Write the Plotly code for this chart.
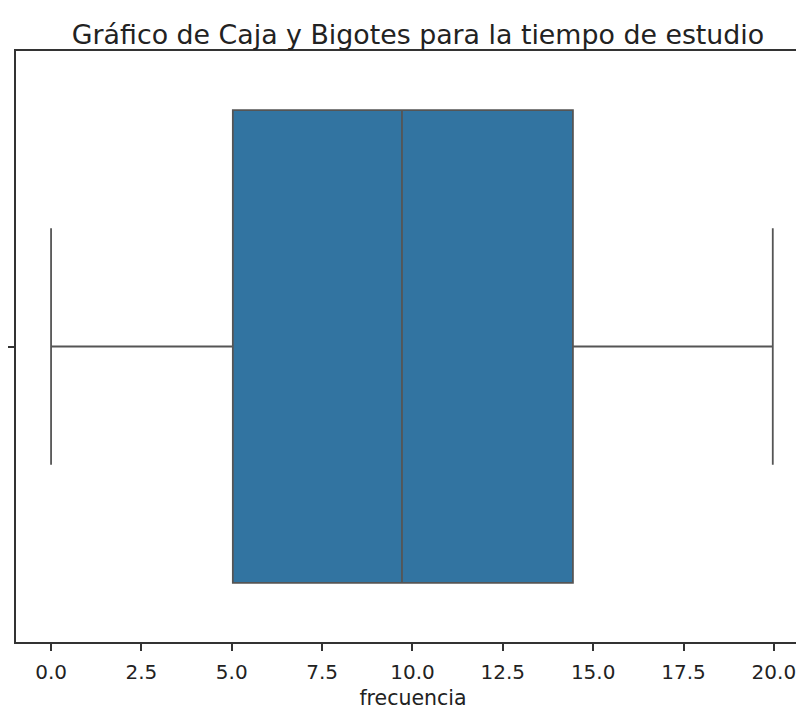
import plotly.graph_objects as go

# Box statistics
q1_vals = [5.03]
median_vals = [9.71]
q3_vals = [14.44]
lower_vals = [0.0]
upper_vals = [19.97]
y_pos = [0]

title_text = "Gráfico de Caja y Bigotes para la tiempo de estudio"
x_label = "frecuencia"
x_tickvals = [0.0, 2.5, 5.0, 7.5, 10.0, 12.5, 15.0, 17.5, 20.0]
x_ticktext = ["0.0", "2.5", "5.0", "7.5", "10.0", "12.5", "15.0", "17.5", "20.0"]

fig = go.Figure()
fig.add_trace(go.Box(
    q1=q1_vals, median=median_vals, q3=q3_vals,
    lowerfence=lower_vals, upperfence=upper_vals,
    y=y_pos, orientation="h",
    width=0.8, whiskerwidth=0.5,
    fillcolor="#3274a1",
    line=dict(color="#555555", width=1.8),
    boxpoints=False, hoverinfo="skip", showlegend=False,
))

font_family = "DejaVu Sans"
fig.update_layout(
    width=804, height=711,
    margin=dict(l=8, r=2, t=43, b=77, autoexpand=False),
    paper_bgcolor="white", plot_bgcolor="white",
    title=dict(text=title_text, x=410 / 804, xanchor="center",
               y=1 - 27 / 711, yanchor="middle",
               font=dict(family=font_family, size=26.8, color="#222")),
    font=dict(family=font_family, color="#222"),
)
fig.update_xaxes(
    range=[-0.97, 21.0], tickvals=x_tickvals, ticktext=x_ticktext,
    ticks="outside", ticklen=7, tickwidth=1.6, tickcolor="#333",
    showline=True, linecolor="#333", linewidth=1.6, mirror=True,
    showgrid=False, zeroline=False, automargin=False,
    ticklabelstandoff=4,
    tickfont=dict(family=font_family, size=20, color="#222"),
    title=dict(text=x_label, font=dict(family=font_family, size=20.5, color="#222"), standoff=8),
)
fig.update_yaxes(
    range=[0.5, -0.5], tickvals=[0], ticktext=[""],
    ticks="outside", ticklen=7, tickwidth=1.6, tickcolor="#333",
    showline=True, linecolor="#333", linewidth=1.6, mirror=False,
    showgrid=False, zeroline=False, automargin=False,
)

fig.write_html("out.html")
